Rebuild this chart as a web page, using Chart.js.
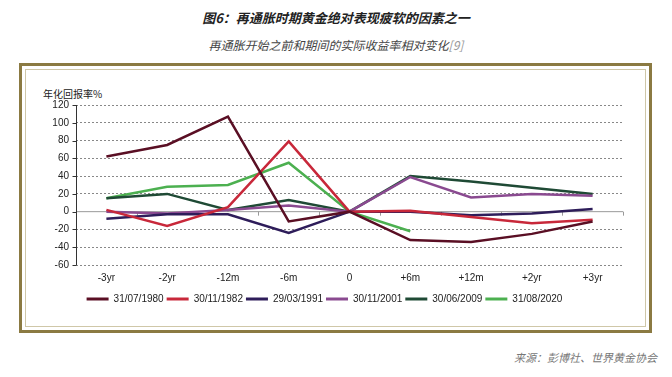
<!DOCTYPE html>
<html>
<head>
<meta charset="utf-8">
<script src="https://cdn.jsdelivr.net/npm/chart.js@4"></script>
<style>
  body { margin: 0; width: 672px; height: 377px; background: #fff; position: relative; overflow: hidden;
         font-family: "Noto Sans CJK SC", "Noto Sans", sans-serif; }
  .title { position: absolute; top: 8px; left: 0; width: 672px; text-align: center;
           font-size: 13px; font-weight: bold; font-style: italic; color: #222; }
  .sub { position: absolute; top: 36px; left: 0; width: 672px; text-align: center;
         font-size: 12px; font-style: italic; color: #444; }
  .sub span { color: #999; }
  .frame { position: absolute; left: 19px; top: 63px; width: 627px; height: 264px; border: 3px solid #8b7a42; }
  .inner { position: absolute; left: 3px; top: 3px; right: 3px; bottom: 3px; border: 1px solid #cfc7a8; }
  .ylab { position: absolute; left: 43px; top: 86px; font-size: 10px; color: #222; }
  .src { position: absolute; right: 15px; top: 349px; font-size: 11px; font-style: italic; color: #777; }
  #wrap { position: absolute; left: 26px; top: 71px; width: 616px; height: 258px; }
</style>
</head>
<body>
<div class="title">图6：再通胀时期黄金绝对表现疲软的因素之一</div>
<div class="sub">再通胀开始之前和期间的实际收益率相对变化<span>[9]</span></div>
<div class="frame"><div class="inner"></div></div>
<div class="ylab">年化回报率%</div>
<div id="wrap"><canvas id="myChart"></canvas></div>
<div class="src">来源：彭博社、世界黄金协会</div>
<script>
// categorias y series
var categories = ['-3yr', '-2yr', '-12m', '-6m', '0', '+6m', '+12m', '+2yr', '+3yr'];
var seriesNames = ['31/07/1980', '30/11/1982', '29/03/1991', '30/11/2001', '30/06/2009', '31/08/2020'];
var s1980 = [62, 75, 107, -11, 0, -32, -34, -25, -11];
var s1982 = [2, -16, 5, 79, 0, 1, -6, -13, -9];
var s1991 = [-8, -3, -3, -24, 0, 0, -4, -2, 3];
var s2001 = [0, -2, 2, 7, 0, 39, 16, 20, 18];
var s2009 = [15, 20, 2, 13, 0, 40, 34, 27, 20];
var s2020 = [15, 28, 30, 55, 0, -22, null, null, null];
var yTicks = [-60, -40, -20, 0, 20, 40, 60, 80, 100, 120];

var colors = ['#5a0f24', '#c8283a', '#2e1d5a', '#8a4a90', '#1f4a35', '#4cb050'];
var allData = [s1980, s1982, s1991, s2001, s2009, s2020];

var datasets = allData.map(function (d, i) {
    return {
        label: seriesNames[i],
        data: d,
        borderColor: colors[i],
        backgroundColor: colors[i],
        borderWidth: 2.5,
        pointRadius: 0,
        tension: 0,
        spanGaps: false
    };
});

// eje Y solido y linea cero con marcas
var axisLines = {
    id: 'axisLines',
    beforeDatasetsDraw: function (chart) {
        var y = chart.scales.y, ctx = chart.ctx, a = chart.chartArea;
        var y0 = y.getPixelForValue(0);
        ctx.save();
        ctx.lineWidth = 1;
        ctx.strokeStyle = '#999';
        ctx.beginPath();
        ctx.moveTo(a.left, y0);
        ctx.lineTo(a.right, y0);
        var step = (a.right - a.left) / categories.length;
        for (var i = 1; i <= categories.length; i++) {
            var px = Math.round(a.left + step * i) + 0.5;
            ctx.moveTo(px, y0);
            ctx.lineTo(px, y0 + 4);
        }
        ctx.stroke();
        ctx.strokeStyle = '#333';
        ctx.beginPath();
        var lx = Math.round(a.left) + 0.5;
        ctx.moveTo(lx, a.top);
        ctx.lineTo(lx, a.bottom);
        yTicks.forEach(function (v) {
            var py = Math.round(y.getPixelForValue(v)) + 0.5;
            ctx.moveTo(lx - 4, py);
            ctx.lineTo(lx, py);
        });
        ctx.stroke();
        ctx.restore();
    }
};

var ctx = document.getElementById('myChart').getContext('2d');
var myChart = new Chart(ctx, {
    type: 'line',
    data: { labels: categories, datasets: datasets },
    plugins: [axisLines],
    options: {
        responsive: true,
        maintainAspectRatio: false,
        animation: false,
        layout: { padding: { top: 34, right: 19, left: 0, bottom: 15 } },
        plugins: {
            legend: {
                position: 'bottom',
                labels: {
                    boxWidth: 22, boxHeight: 3, padding: 3,
                    color: '#222',
                    font: { family: 'Liberation Sans', size: 10 },
                    generateLabels: function (chart) {
                        return chart.data.datasets.map(function (ds, i) {
                            return { text: ds.label, fillStyle: ds.borderColor, strokeStyle: ds.borderColor,
                                     lineWidth: 0, hidden: false, datasetIndex: i, fontColor: '#222' };
                        });
                    }
                }
            },
            tooltip: { enabled: false }
        },
        scales: {
            x: {
                offset: true,
                grid: { display: false, drawTicks: false },
                border: { display: false },
                ticks: { color: '#222', padding: 7, font: { family: 'Liberation Sans', size: 10 } }
            },
            y: {
                min: -60, max: 120,
                afterFit: function (scale) { scale.width = 50; },
                afterBuildTicks: function (scale) { scale.ticks = yTicks.map(function (v) { return { value: v }; }); },
                grid: {
                    color: function (c) { return c.tick && c.tick.value === 0 ? 'rgba(0,0,0,0)' : '#888'; },
                    drawTicks: false,
                    lineWidth: 1
                },
                border: { display: false, dash: [2, 2] },
                ticks: { color: '#222', padding: 7, autoSkip: false, font: { family: 'Liberation Sans', size: 10 } }
            }
        }
    }
});
</script>
</body>
</html>
